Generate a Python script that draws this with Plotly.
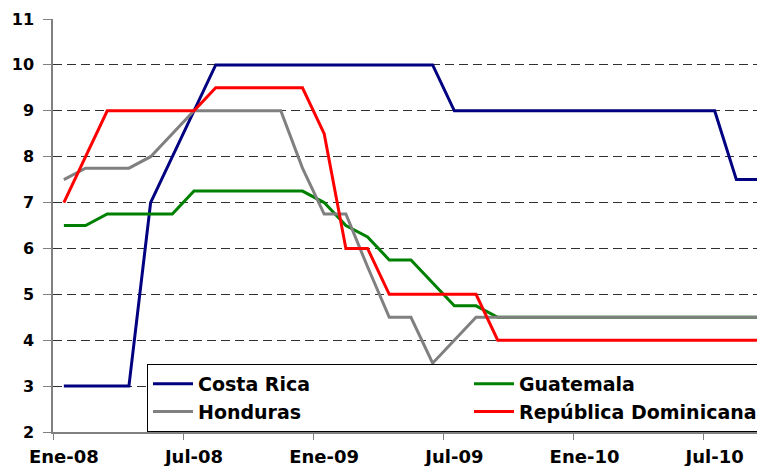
import plotly.graph_objects as go

months = ["Ene-08", "Feb-08", "Mar-08", "Abr-08", "May-08", "Jun-08", "Jul-08", "Ago-08",
          "Sep-08", "Oct-08", "Nov-08", "Dic-08",
          "Ene-09", "Feb-09", "Mar-09", "Abr-09", "May-09", "Jun-09", "Jul-09", "Ago-09",
          "Sep-09", "Oct-09", "Nov-09", "Dic-09",
          "Ene-10", "Feb-10", "Mar-10", "Abr-10", "May-10", "Jun-10", "Jul-10", "Ago-10",
          "Sep-10"]

costa_rica = [3, 3, 3, 3, 7, 8, 9, 10, 10, 10, 10, 10,
              10, 10, 10, 10, 10, 10, 9, 9, 9, 9, 9, 9,
              9, 9, 9, 9, 9, 9, 9, 7.5, 7.5]
guatemala = [6.5, 6.5, 6.75, 6.75, 6.75, 6.75, 7.25, 7.25, 7.25, 7.25, 7.25, 7.25,
             7.0, 6.5, 6.25, 5.75, 5.75, 5.25, 4.75, 4.75, 4.5, 4.5, 4.5, 4.5,
             4.5, 4.5, 4.5, 4.5, 4.5, 4.5, 4.5, 4.5, 4.5]
honduras = [7.5, 7.75, 7.75, 7.75, 8, 8.5, 9, 9, 9, 9, 9, 7.75,
            6.75, 6.75, 5.6, 4.5, 4.5, 3.5, 4.0, 4.5, 4.5, 4.5, 4.5, 4.5,
            4.5, 4.5, 4.5, 4.5, 4.5, 4.5, 4.5, 4.5, 4.5]
rep_dom = [7, 8, 9, 9, 9, 9, 9, 9.5, 9.5, 9.5, 9.5, 9.5,
           8.5, 6, 6, 5, 5, 5, 5, 5, 4, 4, 4, 4,
           4, 4, 4, 4, 4, 4, 4, 4, 4]

series = [("Costa Rica", costa_rica, "#000080"),
          ("Guatemala", guatemala, "#008000"),
          ("Honduras", honduras, "#808080"),
          ("República Dominicana", rep_dom, "#FF0000")]

y_ticks = list(range(2, 12))
label_step = 6

idx = list(range(len(months)))

fig = go.Figure()
for name, vals, color in series:
    fig.add_trace(go.Scatter(x=idx, y=vals, mode="lines", name=name,
                             line=dict(color=color, width=3)))

FONT = "DejaVu Sans"

# the page body has an 8px margin, so the figure is sized/placed to compensate
fig.update_layout(
    template="none",
    width=757, height=458,
    margin=dict(l=45, r=0, t=11, b=34, autoexpand=False),
    paper_bgcolor="white", plot_bgcolor="white",
    font=dict(family=FONT, color="black"),
    showlegend=True,
    legend=dict(
        orientation="h",
        x=(139 - 45) / 712, xanchor="left",
        y=0, yanchor="bottom",
        entrywidth=266, entrywidthmode="pixels",
        itemwidth=40,
        bgcolor="white", bordercolor="black", borderwidth=1,
        font=dict(family=FONT, size=19, weight="bold", color="black"),
        traceorder="normal",
    ),
    xaxis=dict(
        range=[-0.5, 32.32],
        tickmode="array",
        tickvals=idx[::label_step],
        ticktext=months[::label_step],
        ticks="",
        ticklabelstandoff=8,
        tickfont=dict(family=FONT, size=18, weight="bold", color="black"),
        showline=True, linecolor="#808080", linewidth=1.5,
        showgrid=False, zeroline=False,
        minor=dict(tickmode="array",
                   tickvals=[i - 0.5 for i in idx[::label_step]],
                   ticks="outside", ticklen=6, tickcolor="#808080", tickwidth=1,
                   showgrid=False),
    ),
    yaxis=dict(
        range=[2, 11],
        tickmode="array",
        tickvals=y_ticks,
        ticks="outside", ticklen=8, tickcolor="#808080", tickwidth=1,
        ticklabelstandoff=6,
        tickfont=dict(family=FONT, size=16, weight="bold", color="black"),
        showline=True, linecolor="#808080", linewidth=1.5,
        showgrid=True, gridcolor="#303030", gridwidth=1, griddash="9px,5px",
        zeroline=False,
    ),
)

fig.write_html("out.html")
